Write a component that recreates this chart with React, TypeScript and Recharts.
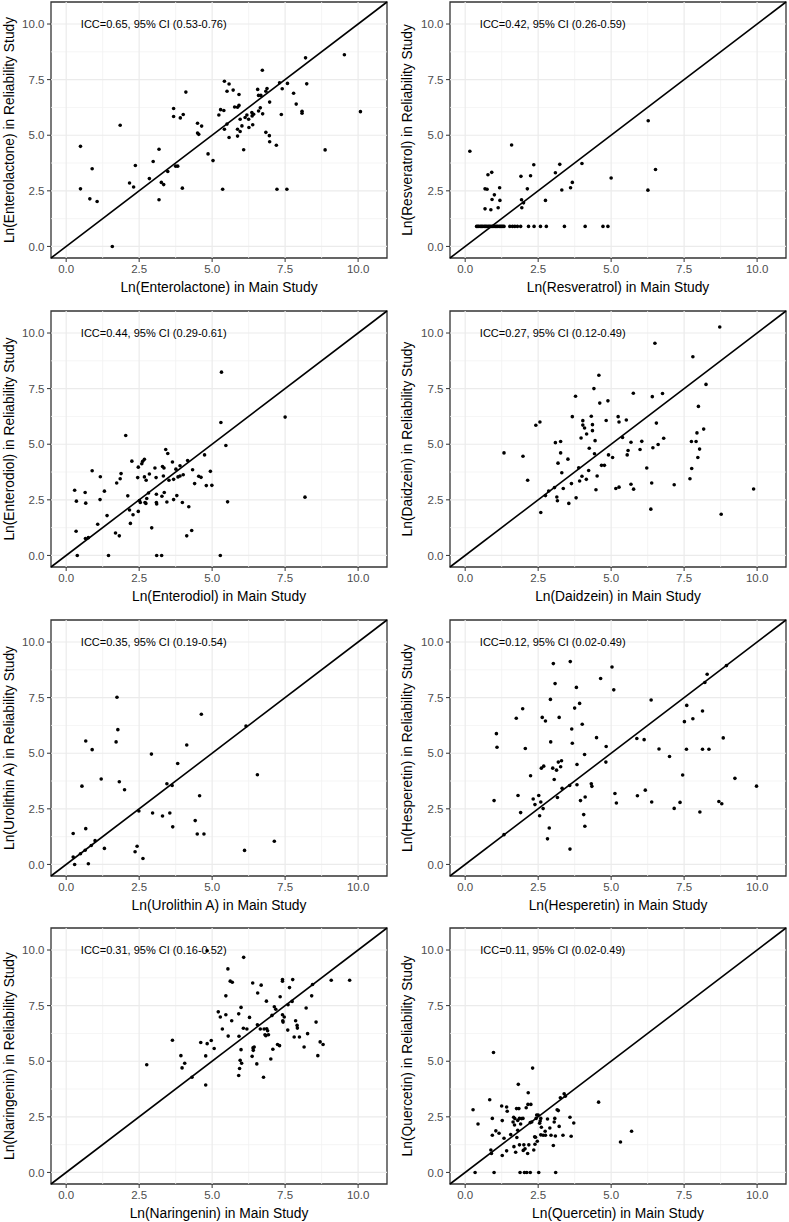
import React from "react";
import {
  ScatterChart,
  Scatter,
  XAxis,
  YAxis,
  ReferenceLine,
  ReferenceArea,
  ReferenceDot,
} from "recharts";

type Pt = [number, number];

// axis setup shared by all eight panels
const majorTicks = [0, 2.5, 5, 7.5, 10];
const minorTicks = [1.25, 3.75, 6.25, 8.75];
const axisMin = -0.52;
const axisMax = 10.99;

// [main study, reliability study]
const enterolactone: Pt[] = [
  [0.49, 4.5], [0.49, 2.59], [0.89, 3.49], [0.81, 2.14], [1.06, 2.02], [1.58, 0.0],
  [1.85, 5.45], [2.17, 2.85], [2.31, 2.67], [2.37, 3.64], [2.85, 3.05], [2.98, 3.82],
  [3.18, 4.37], [3.18, 2.1], [3.26, 2.88], [3.34, 2.78], [3.48, 3.37], [3.68, 6.2],
  [3.68, 5.84], [3.75, 3.61], [3.82, 3.61], [3.91, 5.78], [4.01, 5.93], [3.98, 2.62],
  [4.1, 6.94], [4.5, 5.54], [4.5, 5.1], [4.54, 5.04], [4.64, 5.41], [4.86, 4.16],
  [5.03, 3.86], [5.23, 5.91], [5.29, 6.15], [5.36, 2.57], [5.4, 6.11], [5.42, 7.43],
  [5.42, 5.27], [5.51, 5.5], [5.51, 6.98], [5.58, 7.3], [5.58, 4.9], [5.72, 7.03],
  [5.77, 6.27], [5.87, 6.26], [5.87, 5.27], [5.87, 4.96], [5.92, 6.83], [5.92, 6.34],
  [5.96, 5.72], [5.96, 5.17], [6.02, 5.42], [6.08, 4.35], [6.13, 5.8], [6.19, 5.91],
  [6.25, 5.72], [6.26, 5.35], [6.36, 6.02], [6.37, 5.87], [6.39, 5.47], [6.42, 5.94],
  [6.56, 7.06], [6.59, 6.79], [6.59, 6.09], [6.67, 6.79], [6.65, 6.23], [6.73, 5.96],
  [6.72, 7.92], [6.84, 6.98], [6.88, 7.1], [6.84, 5.13], [6.96, 4.98], [6.97, 4.71],
  [6.97, 6.49], [7.2, 4.55], [7.31, 7.36], [7.37, 5.93], [7.4, 7.09], [7.22, 2.57],
  [7.56, 2.57], [7.58, 7.33], [7.79, 6.89], [7.88, 6.4], [8.08, 6.08], [8.08, 5.99],
  [8.2, 8.48], [8.24, 7.31], [8.87, 4.34], [9.53, 8.62], [10.08, 6.06],
];

const resveratrol: Pt[] = [
  [0.39, 0.9], [0.43, 0.9], [0.47, 0.9], [0.52, 0.9], [0.56, 0.9], [0.6, 0.9],
  [0.65, 0.9], [0.69, 0.9], [0.73, 0.9], [0.78, 0.9], [0.82, 0.9], [0.86, 0.9],
  [0.91, 0.9], [0.95, 0.9], [0.99, 0.9], [1.04, 0.9], [1.08, 0.9], [1.12, 0.9],
  [1.17, 0.9], [1.21, 0.9], [1.25, 0.9], [1.29, 0.9], [1.33, 0.9], [1.53, 0.9],
  [1.62, 0.9], [1.7, 0.9], [1.79, 0.9], [1.9, 0.9], [2.17, 0.9], [2.36, 0.9],
  [2.58, 0.9], [2.78, 0.9], [3.4, 0.9], [4.11, 0.9], [4.72, 0.9], [4.89, 0.9],
  [0.16, 4.28], [1.59, 4.56], [0.68, 1.69], [0.68, 2.59], [0.75, 2.57], [0.78, 3.22],
  [0.91, 3.33], [0.88, 1.65], [0.92, 2.11], [1.0, 2.32], [1.13, 1.74], [1.18, 2.64],
  [1.19, 2.07], [1.91, 3.15], [1.93, 2.1], [1.94, 1.74], [2.0, 1.96], [2.13, 2.59],
  [2.24, 3.18], [2.35, 3.67], [2.75, 2.07], [3.09, 3.31], [3.24, 3.69], [3.31, 2.54],
  [3.61, 2.64], [3.67, 2.88], [4.0, 3.73], [5.0, 3.08], [6.27, 5.65], [6.26, 2.53],
  [6.52, 3.46],
];

const enterodiol: Pt[] = [
  [0.29, 2.93], [0.35, 2.44], [0.34, 1.09], [0.38, 0.0], [0.65, 2.83], [0.67, 2.35],
  [0.66, 0.76], [0.76, 0.8], [0.89, 3.81], [1.08, 1.4], [1.16, 2.51], [1.17, 3.54],
  [1.31, 2.89], [1.4, 1.79], [1.45, 0.0], [1.69, 1.01], [1.73, 3.26], [1.82, 0.88],
  [1.85, 3.45], [1.88, 3.68], [2.04, 5.39], [2.11, 2.68], [2.17, 2.04], [2.2, 1.44],
  [2.25, 4.24], [2.29, 1.83], [2.45, 3.5], [2.47, 3.97], [2.47, 1.98], [2.51, 2.47],
  [2.54, 2.38], [2.59, 4.12], [2.62, 4.23], [2.68, 4.32], [2.68, 3.53], [2.7, 2.38],
  [2.73, 2.34], [2.74, 3.38], [2.76, 2.56], [2.85, 3.66], [2.82, 2.81], [2.93, 1.24],
  [3.04, 3.93], [3.08, 3.5], [3.09, 2.75], [3.09, 2.38], [3.1, 2.31], [3.1, 0.0],
  [3.27, 0.0], [3.3, 4.0], [3.28, 2.66], [3.33, 3.57], [3.35, 3.93], [3.36, 2.83],
  [3.41, 4.76], [3.45, 2.4], [3.48, 4.58], [3.52, 3.38], [3.64, 4.2], [3.68, 3.42],
  [3.68, 2.51], [3.79, 2.69], [3.76, 3.88], [3.83, 3.53], [3.9, 4.03], [3.9, 3.57],
  [3.98, 2.38], [4.01, 3.63], [4.13, 0.88], [4.16, 4.27], [4.2, 2.19], [4.3, 1.12],
  [4.33, 3.85], [4.4, 3.23], [4.54, 3.56], [4.62, 3.51], [4.74, 4.52], [4.8, 3.14],
  [4.94, 3.78], [4.99, 3.15], [5.3, 5.98], [5.32, 8.24], [5.28, 0.0], [5.47, 4.94],
  [5.53, 2.41], [7.5, 6.22], [8.18, 2.62],
];

const daidzein: Pt[] = [
  [1.33, 4.61], [1.98, 4.46], [2.14, 3.38], [2.42, 5.85], [2.56, 6.0], [2.59, 1.93],
  [2.75, 2.69], [2.86, 2.9], [3.06, 3.05], [3.09, 5.07], [3.14, 2.63], [3.16, 2.46],
  [3.18, 4.15], [3.27, 5.12], [3.27, 4.61], [3.31, 3.72], [3.36, 3.01], [3.52, 4.33],
  [3.55, 2.34], [3.64, 3.23], [3.67, 6.24], [3.78, 7.16], [3.8, 2.59], [3.89, 3.94],
  [3.92, 3.35], [3.97, 5.28], [4.0, 3.56], [4.03, 6.06], [4.03, 5.86], [4.09, 5.73],
  [4.16, 5.46], [4.15, 3.42], [4.23, 3.82], [4.25, 4.82], [4.32, 6.26], [4.36, 5.88],
  [4.36, 5.61], [4.41, 7.5], [4.43, 4.57], [4.45, 5.16], [4.48, 2.95], [4.52, 3.57],
  [4.58, 8.1], [4.61, 6.85], [4.67, 4.05], [4.77, 4.05], [4.83, 6.07], [4.89, 6.95],
  [4.91, 4.52], [5.05, 4.4], [5.16, 3.01], [5.24, 6.24], [5.27, 6.0], [5.27, 3.07],
  [5.39, 5.3], [5.52, 6.09], [5.55, 4.52], [5.58, 4.72], [5.68, 3.2], [5.68, 5.09],
  [5.76, 7.29], [5.77, 2.98], [5.99, 4.76], [6.05, 5.13], [6.22, 3.93], [6.36, 2.08],
  [6.39, 3.26], [6.41, 7.14], [6.43, 4.84], [6.5, 9.54], [6.55, 5.95], [6.61, 4.99],
  [6.76, 7.28], [6.8, 5.27], [7.16, 3.18], [7.7, 3.45], [7.75, 5.12], [7.76, 3.91],
  [7.8, 8.93], [7.91, 5.12], [7.94, 5.51], [7.97, 4.4], [7.99, 6.7], [8.03, 4.78],
  [8.17, 5.68], [8.25, 7.69], [8.72, 10.27], [8.77, 1.85], [9.88, 2.99],
];

const urolithinA: Pt[] = [
  [0.24, 1.39], [0.24, 0.33], [0.29, 0.0], [0.49, 0.48], [0.54, 3.52], [0.65, 0.64],
  [0.67, 1.61], [0.67, 5.55], [0.76, 0.03], [0.86, 0.85], [0.89, 5.16], [0.99, 1.07],
  [1.2, 3.84], [1.31, 0.72], [1.71, 5.51], [1.74, 7.52], [1.77, 6.06], [1.82, 3.72],
  [2.0, 3.36], [2.36, 0.57], [2.43, 0.82], [2.49, 2.4], [2.63, 0.27], [2.92, 4.96],
  [2.96, 2.31], [3.3, 2.18], [3.45, 3.63], [3.55, 2.31], [3.63, 3.55], [3.65, 1.69],
  [3.82, 4.54], [4.13, 5.37], [4.42, 1.97], [4.49, 1.37], [4.57, 3.09], [4.63, 6.75],
  [4.72, 1.37], [6.11, 0.63], [6.16, 6.22], [6.55, 4.03], [7.13, 1.04],
];

const hesperetin: Pt[] = [
  [0.99, 2.87], [1.07, 5.88], [1.09, 5.27], [1.33, 1.34], [1.75, 6.57], [1.81, 3.1],
  [1.9, 2.33], [1.97, 7.0], [2.06, 5.21], [2.24, 3.99], [2.33, 2.94], [2.39, 2.69],
  [2.52, 3.1], [2.55, 2.19], [2.59, 2.81], [2.61, 4.33], [2.64, 6.61], [2.67, 2.51],
  [2.69, 4.42], [2.75, 6.45], [2.82, 1.15], [2.88, 1.64], [2.92, 7.42], [2.93, 5.51],
  [3.0, 4.33], [3.02, 9.03], [3.05, 3.82], [3.08, 8.13], [3.13, 4.24], [3.16, 3.01],
  [3.19, 4.6], [3.22, 6.61], [3.27, 4.39], [3.3, 4.66], [3.32, 3.42], [3.58, 3.55],
  [3.59, 0.69], [3.6, 9.12], [3.65, 6.09], [3.67, 5.45], [3.75, 7.03], [3.81, 7.96],
  [3.83, 4.49], [3.83, 3.58], [3.92, 7.24], [3.95, 2.87], [4.01, 6.3], [4.06, 2.24],
  [4.09, 4.94], [4.11, 3.03], [4.1, 1.72], [4.32, 3.63], [4.34, 3.51], [4.5, 5.7],
  [4.64, 8.36], [4.82, 4.6], [4.83, 5.3], [5.03, 8.88], [5.09, 7.85], [5.13, 3.19],
  [5.18, 2.76], [5.88, 5.66], [5.9, 3.09], [6.13, 5.61], [6.17, 3.34], [6.37, 7.39],
  [6.39, 2.81], [6.64, 5.19], [7.0, 4.85], [7.16, 2.52], [7.36, 2.79], [7.45, 4.02],
  [7.51, 6.42], [7.58, 5.18], [7.59, 7.15], [7.8, 6.55], [8.04, 2.36], [8.13, 6.9],
  [8.13, 5.18], [8.21, 8.18], [8.29, 8.55], [8.35, 5.18], [8.69, 2.83], [8.79, 2.73],
  [8.84, 5.69], [8.95, 8.94], [9.24, 3.87], [9.98, 3.52],
];

const naringenin: Pt[] = [
  [2.76, 4.84], [3.64, 5.94], [3.93, 5.25], [3.97, 4.7], [4.06, 4.91], [4.31, 4.28],
  [4.61, 5.84], [4.78, 5.24], [4.78, 3.93], [4.83, 5.79], [4.83, 9.97], [4.97, 5.93],
  [5.07, 5.57], [5.21, 7.22], [5.28, 6.99], [5.35, 6.45], [5.47, 7.94], [5.47, 7.09],
  [5.54, 9.15], [5.55, 6.13], [5.62, 8.6], [5.69, 8.55], [5.67, 6.82], [5.91, 7.13],
  [5.92, 6.12], [5.91, 4.36], [5.94, 4.67], [5.96, 5.04], [5.99, 7.42], [5.99, 5.52],
  [6.01, 4.91], [6.07, 6.48], [6.08, 9.67], [6.19, 6.45], [6.28, 6.97], [6.37, 5.22],
  [6.39, 8.52], [6.4, 5.6], [6.41, 5.49], [6.44, 5.64], [6.53, 4.88], [6.56, 8.07],
  [6.55, 6.64], [6.65, 6.45], [6.68, 8.42], [6.76, 4.28], [6.78, 6.45], [6.81, 6.19],
  [6.84, 6.15], [6.86, 7.7], [6.87, 6.46], [6.9, 6.37], [6.93, 6.19], [7.01, 5.1],
  [7.05, 7.06], [7.08, 5.54], [7.13, 7.45], [7.18, 7.34], [7.24, 5.75], [7.31, 5.7],
  [7.33, 7.9], [7.41, 8.6], [7.41, 8.67], [7.41, 7.09], [7.42, 6.82], [7.43, 6.76],
  [7.47, 6.99], [7.59, 6.4], [7.6, 7.54], [7.65, 8.31], [7.74, 7.69], [7.76, 8.67],
  [7.81, 6.09], [7.86, 6.82], [7.91, 6.61], [7.92, 6.49], [7.99, 6.09], [8.15, 5.64],
  [8.22, 7.39], [8.27, 6.24], [8.41, 7.94], [8.44, 8.45], [8.56, 6.76], [8.62, 5.25],
  [8.7, 5.87], [8.8, 5.75], [9.08, 8.64], [9.71, 8.64],
];

const quercetin: Pt[] = [
  [0.27, 2.82], [0.34, 0.0], [0.44, 2.18], [0.84, 3.27], [0.88, 1.01], [0.9, 0.85],
  [0.93, 2.43], [0.93, 1.67], [0.97, 5.39], [0.99, 0.0], [1.05, 1.87], [1.16, 1.76],
  [1.25, 2.99], [1.27, 2.33], [1.27, 0.76], [1.33, 1.54], [1.42, 2.94], [1.44, 2.75],
  [1.42, 0.97], [1.56, 1.7], [1.64, 2.27], [1.66, 2.48], [1.67, 1.16], [1.69, 2.13],
  [1.7, 2.42], [1.73, 0.91], [1.76, 2.87], [1.77, 1.57], [1.8, 2.34], [1.8, 1.9],
  [1.82, 3.96], [1.84, 2.87], [1.86, 1.24], [1.86, 2.43], [1.88, 0.0], [1.9, 2.18],
  [1.93, 2.42], [1.98, 2.43], [1.99, 0.99], [2.01, 1.24], [2.03, 0.0], [2.05, 1.06],
  [2.09, 2.91], [2.11, 0.0], [2.14, 0.85], [2.15, 3.06], [2.16, 3.58], [2.18, 1.24],
  [2.23, 2.24], [2.23, 0.0], [2.25, 3.06], [2.28, 2.27], [2.31, 4.69], [2.35, 1.01],
  [2.38, 1.6], [2.39, 1.27], [2.41, 1.58], [2.43, 2.43], [2.45, 2.58], [2.47, 1.4],
  [2.5, 2.58], [2.52, 0.0], [2.55, 2.21], [2.57, 2.31], [2.59, 2.43], [2.59, 1.69],
  [2.61, 2.03], [2.67, 1.67], [2.74, 1.85], [2.75, 1.67], [2.82, 2.4], [2.9, 2.0],
  [2.94, 1.67], [3.02, 1.21], [3.05, 2.27], [3.07, 2.43], [3.09, 1.64], [3.1, 0.0],
  [3.15, 2.82], [3.19, 2.78], [3.22, 2.07], [3.26, 3.36], [3.35, 1.67], [3.39, 3.54],
  [3.43, 3.43], [3.59, 2.48], [3.63, 1.63], [3.72, 2.22], [4.57, 3.16], [5.32, 1.37],
  [5.7, 1.85],
];

const compounds = [
  { name: "Enterolactone", icc: "ICC=0.65, 95% CI (0.53-0.76)", data: enterolactone },
  { name: "Resveratrol", icc: "ICC=0.42, 95% CI (0.26-0.59)", data: resveratrol },
  { name: "Enterodiol", icc: "ICC=0.44, 95% CI (0.29-0.61)", data: enterodiol },
  { name: "Daidzein", icc: "ICC=0.27, 95% CI (0.12-0.49)", data: daidzein },
  { name: "Urolithin A", icc: "ICC=0.35, 95% CI (0.19-0.54)", data: urolithinA },
  { name: "Hesperetin", icc: "ICC=0.12, 95% CI (0.02-0.49)", data: hesperetin },
  { name: "Naringenin", icc: "ICC=0.31, 95% CI (0.16-0.52)", data: naringenin },
  { name: "Quercetin", icc: "ICC=0.11, 95% CI (0.02-0.49)", data: quercetin },
];

const rowTops = [0, 309, 618, 926];
const tickFmt = (v: number) => v.toFixed(1);

const Dot = (props: any) => (
  <circle cx={props.cx} cy={props.cy} r={1.8} fill="#000" />
);

function Panel({ index }: { index: number }) {
  const c = compounds[index];
  const col = index % 2;
  const row = Math.floor(index / 2);
  const left = col === 0 ? 0 : 395;
  const width = col === 0 ? 395 : 394;
  const yWidth = col === 0 ? 51 : 55;
  const points = c.data.map(([x, y]) => ({ x, y }));

  return (
    <div style={{ position: "absolute", left, top: rowTops[row] }}>
      <ScatterChart
        width={width}
        height={296}
        margin={{ top: 2, right: col === 0 ? 8 : 3, bottom: 0, left: 0 }}
      >
        {/* minor grid first, majors on top */}
        {minorTicks.map((v) => (
          <ReferenceLine key={"mx" + v} x={v} stroke="#F2F2F2" strokeWidth={0.8} />
        ))}
        {minorTicks.map((v) => (
          <ReferenceLine key={"my" + v} y={v} stroke="#F2F2F2" strokeWidth={0.8} />
        ))}
        {majorTicks.map((v) => (
          <ReferenceLine key={"Mx" + v} x={v} stroke="#EBEBEB" strokeWidth={1.2} />
        ))}
        {majorTicks.map((v) => (
          <ReferenceLine key={"My" + v} y={v} stroke="#EBEBEB" strokeWidth={1.2} />
        ))}
        <XAxis
          type="number"
          dataKey="x"
          domain={[axisMin, axisMax]}
          allowDataOverflow
          ticks={majorTicks}
          tickFormatter={tickFmt}
          height={38}
          axisLine={false}
          tickLine={{ stroke: "#333333" }}
          tickSize={4}
          tickMargin={3}
          tick={{ fill: "#4D4D4D", fontSize: 11.5 }}
          label={{
            value: `Ln(${c.name}) in Main Study`,
            position: "insideBottom",
            offset: 4,
            fill: "#000",
            fontSize: 13.8,
          }}
        />
        <YAxis
          type="number"
          dataKey="y"
          domain={[axisMin, axisMax]}
          allowDataOverflow
          ticks={majorTicks}
          tickFormatter={tickFmt}
          width={yWidth}
          axisLine={false}
          tickLine={{ stroke: "#333333" }}
          tickSize={4}
          tickMargin={2.5}
          tick={{ fill: "#4D4D4D", fontSize: 11.5 }}
          label={{
            value: `Ln(${c.name}) in Reliability Study`,
            angle: -90,
            position: "insideLeft",
            offset: col === 0 ? 9 : 12.5,
            style: { textAnchor: "middle" },
            fill: "#000",
            fontSize: 13.8,
          }}
        />
        <ReferenceLine
          segment={[
            { x: axisMin, y: axisMin },
            { x: axisMax, y: axisMax },
          ]}
          stroke="#000"
          strokeWidth={1.6}
          ifOverflow="visible"
        />
        <ReferenceDot
          x={3}
          y={10}
          r={0}
          fill="none"
          stroke="none"
          label={{ value: c.icc, position: "center", fontSize: 11, fill: "#000" }}
        />
        <Scatter data={points} isAnimationActive={false} shape={Dot} />
        <ReferenceArea
          x1={axisMin}
          x2={axisMax}
          y1={axisMin}
          y2={axisMax}
          fill="none"
          fillOpacity={0}
          stroke="#333333"
          strokeWidth={1.3}
          ifOverflow="visible"
        />
      </ScatterChart>
    </div>
  );
}

export default function App() {
  return (
    <div
      style={{
        position: "absolute",
        left: 0,
        top: 0,
        width: 789,
        height: 1222,
        background: "#fff",
        fontFamily: '"Liberation Sans", Arial, sans-serif',
      }}
    >
      {compounds.map((c, i) => (
        <Panel key={c.name} index={i} />
      ))}
    </div>
  );
}
